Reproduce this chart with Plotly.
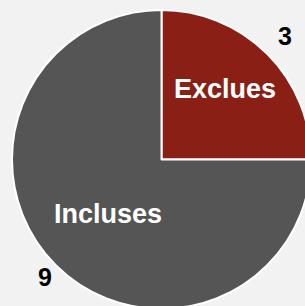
import math
import plotly.graph_objects as go

categories = ["Exclues", "Incluses"]
values = [3, 9]
colors = ["#8a1f16", "#555555"]

W, H = 320, 320
CX, CY, R = 161.5, 159.5, 149.5  # pie centre / radius in px

fig = go.Figure(go.Pie(
    labels=categories,
    values=values,
    sort=False,
    direction="clockwise",
    rotation=0,
    marker=dict(colors=colors, line=dict(color="#ffffff", width=2)),
    textinfo="none",
    hoverinfo="label+value",
    showlegend=False,
    domain=dict(x=[(CX - R) / W, (CX + R) / W], y=[1 - (CY + R) / H, 1 - (CY - R) / H]),
))

# label placement along each slice bisector (fraction of radius) + small nudges
name_r = [0.63, 0.52]
name_shift = [(-3, 4), (1, 0)]
value_r = [1.165, 1.10]
value_shift = [(0, 0), (0, -1)]
total = sum(values)
start = 0.0
for i, (cat, v) in enumerate(zip(categories, values)):
    mid = (start + v / 2) / total * 2 * math.pi
    start += v
    for txt, rf, col, size, sh in ((cat, name_r[i], "#ffffff", 27, name_shift[i]),
                                   (str(v), value_r[i], "#000000", 25, value_shift[i])):
        px = CX + R * rf * math.sin(mid)
        py = CY - R * rf * math.cos(mid)
        fig.add_annotation(
            x=px / W, y=1 - py / H, xref="paper", yref="paper",
            text=f"<b>{txt}</b>", showarrow=False,
            font=dict(family="Liberation Sans, Arial, sans-serif", size=size, color=col),
            xanchor="center", yanchor="middle",
            xshift=sh[0], yshift=sh[1],
        )

fig.update_layout(
    width=W, height=H,
    margin=dict(l=0, r=0, t=0, b=0),
    paper_bgcolor="#f2f2f2",
    plot_bgcolor="#f2f2f2",
)

fig.write_html(
    "out.html",
    config={"displayModeBar": False},
    post_script="document.body.style.margin='0';document.body.style.overflow='hidden';",
)
